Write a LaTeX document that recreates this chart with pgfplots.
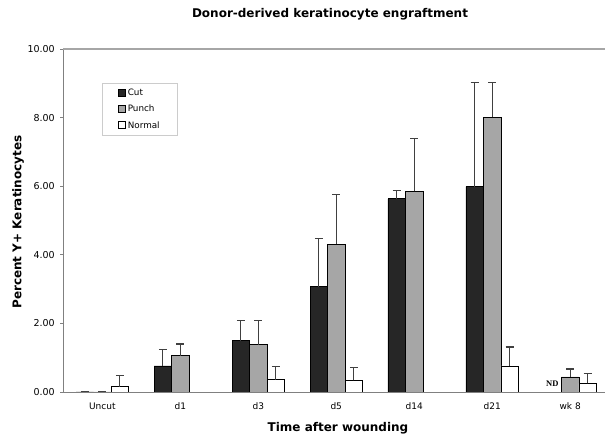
\documentclass[border=0pt]{standalone}
\usepackage{pgfplots}
\pgfplotsset{compat=1.18}
\usepackage{fontspec}
\setmainfont{DejaVu Sans}
\newfontfamily\serifnd{Liberation Serif}
\definecolor{cutc}{HTML}{262626}
\definecolor{punchc}{HTML}{A6A6A6}
\definecolor{axc}{HTML}{808080}
\begin{document}
\begin{tikzpicture}[x=1pt,y=1pt]
\useasboundingbox (0,0) rectangle (608,438);
\node[font=\fontsize{12}{14}\selectfont\bfseries] at (330,424) {Donor-derived keratinocyte engraftment};
\node[font=\fontsize{12}{14}\selectfont\bfseries] at (338,10) {Time after wounding};
\node[font=\fontsize{12}{14}\selectfont\bfseries,rotate=90] at (18,216) {Percent Y+ Keratinocytes};
\begin{axis}[
  at={(63.3pt,46pt)}, anchor=south west,
  scale only axis, width=542pt, height=343pt,
  xmin=-0.5, xmax=6.45, ymin=0, ymax=10,
  ybar=0pt, bar width=17.5pt,
  axis x line*=bottom, axis y line*=left,
  axis line style={axc, line width=0.9pt},
  xtick={0,...,6},
  xticklabels={Uncut,d1,d3,d5,d14,d21,wk 8},
  x tick style={draw=none},
  minor xtick={-0.5,0.5,...,5.5},
  minor x tick style={axc, line width=0.6pt},
  minor tick length=3pt,
  xticklabel style={font=\fontsize{9}{10}\selectfont, yshift=-4pt},
  ytick={0,2,4,6,8},
  extra y ticks={10},
  extra y tick style={ymajorgrids=true, major grid style={axc!70, line width=1.2pt}},
  y tick style={axc, line width=0.8pt},
  tick align=outside, major tick length=3pt,
  yticklabel style={font=\fontsize{9.5}{11}\selectfont, xshift=-2pt},
  /pgf/number format/.cd, fixed, fixed zerofill, precision=2, assume math mode=true,
  /pgfplots/.cd,
  error bars/y dir=plus, error bars/y explicit,
  error bars/error mark options={rotate=90, mark size=4pt, line width=1.2pt, draw=black!75},
  error bars/error bar style={line width=0.9pt, draw=black!75},
  legend style={at={(0.071,0.901)}, anchor=north west, draw=black!20, line width=0.5pt,
    font=\fontsize{8.8}{10}\selectfont, row sep=4pt, inner xsep=16pt, inner ysep=4pt},
  legend cell align=left,
  legend image code/.code={\draw[#1, line width=0.8pt] (0pt,-3.3pt) rectangle (7pt,3.7pt);},
]
\addplot[fill=cutc, draw=black, line width=0.8pt] coordinates {
  (0,0) +- (0,0)
  (1,0.76) +- (0,0.49)
  (2,1.49) +- (0,0.59)
  (3,3.07) +- (0,1.41)
  (4,5.63) +- (0,0.25)
  (5,5.99) +- (0,3.03)
};
\addplot[fill=punchc, draw=black, line width=0.8pt] coordinates {
  (0,0) +- (0,0)
  (1,1.06) +- (0,0.34)
  (2,1.38) +- (0,0.70)
  (3,4.31) +- (0,1.45)
  (4,5.85) +- (0,1.53)
  (5,8.01) +- (0,1.01)
  (6,0.44) +- (0,0.23)
};
\addplot[fill=white, draw=black, line width=0.8pt] coordinates {
  (0,0.15) +- (0,0.33)
  (2,0.36) +- (0,0.39)
  (3,0.34) +- (0,0.37)
  (5,0.76) +- (0,0.55)
  (6,0.25) +- (0,0.30)
};
\legend{Cut,Punch,Normal}
\node[font=\serifnd\fontsize{8.5}{9}\selectfont\bfseries] at (axis cs:5.77,0.24) {ND};
\end{axis}
\end{tikzpicture}
\end{document}
